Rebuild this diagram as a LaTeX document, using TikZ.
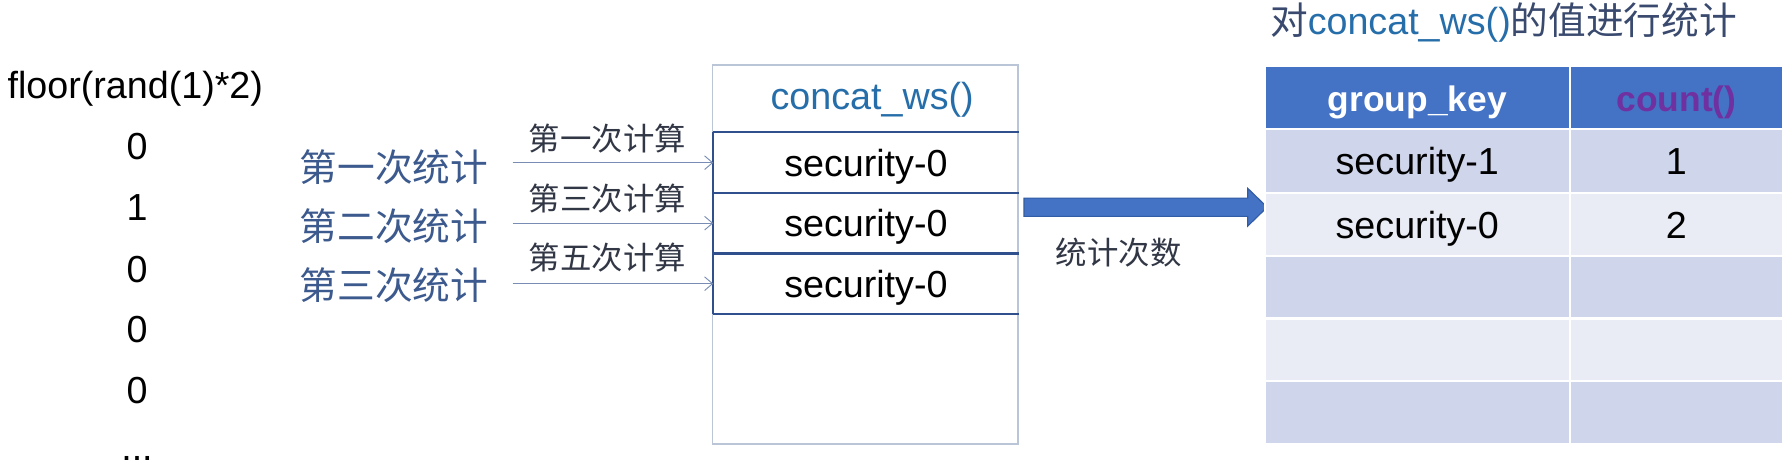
\documentclass[tikz,border=0pt]{standalone}
\usepackage{fontspec}
\setmainfont{Liberation Sans}
\newfontfamily\cjk{Noto Sans CJK SC}
\usetikzlibrary{arrows.meta}
\definecolor{cboxedge}{RGB}{186,197,215}
\definecolor{rowline}{RGB}{47,80,140}
\definecolor{concatblue}{RGB}{38,110,170}
\definecolor{titlecjk}{RGB}{58,74,110}
\definecolor{labelblue}{RGB}{60,90,142}
\definecolor{labeldark}{RGB}{50,55,70}
\definecolor{thinarrowc}{RGB}{120,140,180}
\definecolor{bigarrowfill}{RGB}{68,114,196}
\definecolor{bigarrowedge}{RGB}{50,92,165}
\definecolor{hdrfill}{RGB}{68,114,196}
\definecolor{rowdark}{RGB}{207,213,234}
\definecolor{rowlight}{RGB}{233,235,245}
\definecolor{countpurple}{RGB}{112,48,160}
\newcommand\fsBig{\fontsize{33}{39}\selectfont}
\newcommand\fsHdr{\fontsize{31}{37}\selectfont}
\newcommand\fsSm{\fontsize{27.5}{33}\selectfont}
\begin{document}
\begin{tikzpicture}[x=1pt,y=-1pt,
  txt/.style={inner sep=0pt, font=\fsBig},
  bluelabel/.style={inner sep=0pt, font=\fsBig\cjk, text=labelblue},
  smalllabel/.style={inner sep=0pt, font=\fsSm\cjk, text=labeldark},
  rowcell/.style={inner sep=0pt, minimum width=267pt, minimum height=53pt, font=\fsBig, text height=24pt, text depth=0pt},
  thinarrow/.style={draw=thinarrowc, line width=1pt, -{Straight Barb[length=7pt,width=12pt,line width=0.8pt]}},
  tcell/.style={draw=white, line width=2pt, inner sep=0pt, font=\fsBig, text height=24pt, text depth=0pt},
  col1/.style={tcell, minimum width=267pt},
  col2/.style={tcell, minimum width=187pt}
]
\useasboundingbox[fill=white] (0,0) rectangle (1568,408);

% title
\node[inner sep=0pt, font=\fsBig] (title) at (1317,20)
  {{\cjk\color{titlecjk}对}{\color{concatblue}concat\_ws()}{\cjk\color{titlecjk}的值进行统计}};

% left column of values
\node[txt] (floor) at (118.5,78) {floor(rand(1)*2)};
\node[txt] (d1) at (120,128) {0};
\node[txt] (d2) at (120,182) {1};
\node[txt] (d3) at (120,236) {0};
\node[txt] (d4) at (120,289) {0};
\node[txt] (d5) at (120,342) {0};
\node[txt, anchor=base] (dots) at (120,403) {...};

% blue labels
\node[bluelabel] (s1) at (345,146) {第一次统计};
\node[bluelabel] (s2) at (345,198) {第二次统计};
\node[bluelabel] (s3) at (345,250) {第三次统计};

% small labels
\node[smalllabel] (c1) at (532,121) {第一次计算};
\node[smalllabel] (c2) at (532,174) {第三次计算};
\node[smalllabel] (c3) at (532,226) {第五次计算};

% concat box
\node[draw=cboxedge, line width=1.5pt, minimum width=268pt, minimum height=332pt, inner sep=0pt] (cbox) at (758,223) {};
\node[inner sep=0pt, font=\fsBig, text=concatblue] (chead) at (764,87) {concat\_ws()};
\node[rowcell] (r1) at (758.5,142.5) {security-0};
\node[rowcell] (r2) at (758.5,195.5) {security-0};
\node[rowcell] (r3) at (758.5,248.5) {security-0};
\draw[rowline, line width=1.8pt] (r1.north west) -- (r1.north east);
\draw[rowline, line width=1.8pt] (r2.north west) -- (r2.north east);
\draw[rowline, line width=2.4pt] (r3.north west) -- (r3.north east);
\draw[rowline, line width=1.8pt] (r3.south west) -- (r3.south east);
\draw[rowline, line width=1.8pt] (r1.north west) -- (r3.south west);

% thin arrows
\coordinate (a1) at (449,142.5);
\coordinate (a2) at (449,195.5);
\coordinate (a3) at (449,248.5);
\draw[thinarrow] (a1) -- (r1.west);
\draw[thinarrow] (a2) -- (r2.west);
\draw[thinarrow] (a3) -- (r3.west);

% big block arrow
\filldraw[fill=bigarrowfill, draw=bigarrowedge, line width=1pt]
  (897,173.5) -- (1093,173.5) -- (1093,165) -- (1110,181.5) -- (1093,198) -- (1093,189.5) -- (897,189.5) -- cycle;
\node[smalllabel, text=labeldark] (cnt) at (980,221) {统计次数};

% table
\node[col1, fill=hdrfill, minimum height=55pt, text=white, font=\fsHdr\bfseries] (h1) at (1241.5,85.5) {group\_key};
\node[col2, fill=hdrfill, minimum height=55pt, text=countpurple, font=\fsHdr\bfseries] (h2) at (1468.5,85.5) {count()};
\node[col1, fill=rowdark, minimum height=56pt] (t11) at (1241.5,141) {security-1};
\node[col2, fill=rowdark, minimum height=56pt] (t12) at (1468.5,141) {1};
\node[col1, fill=rowlight, minimum height=55pt] (t21) at (1241.5,196.5) {security-0};
\node[col2, fill=rowlight, minimum height=55pt] (t22) at (1468.5,196.5) {2};
\node[col1, fill=rowdark, minimum height=55pt] (t31) at (1241.5,251.5) {};
\node[col2, fill=rowdark, minimum height=55pt] (t32) at (1468.5,251.5) {};
\node[col1, fill=rowlight, minimum height=55pt] (t41) at (1241.5,306.5) {};
\node[col2, fill=rowlight, minimum height=55pt] (t42) at (1468.5,306.5) {};
\node[col1, fill=rowdark, minimum height=55pt] (t51) at (1241.5,361.5) {};
\node[col2, fill=rowdark, minimum height=55pt] (t52) at (1468.5,361.5) {};
\end{tikzpicture}
\end{document}
